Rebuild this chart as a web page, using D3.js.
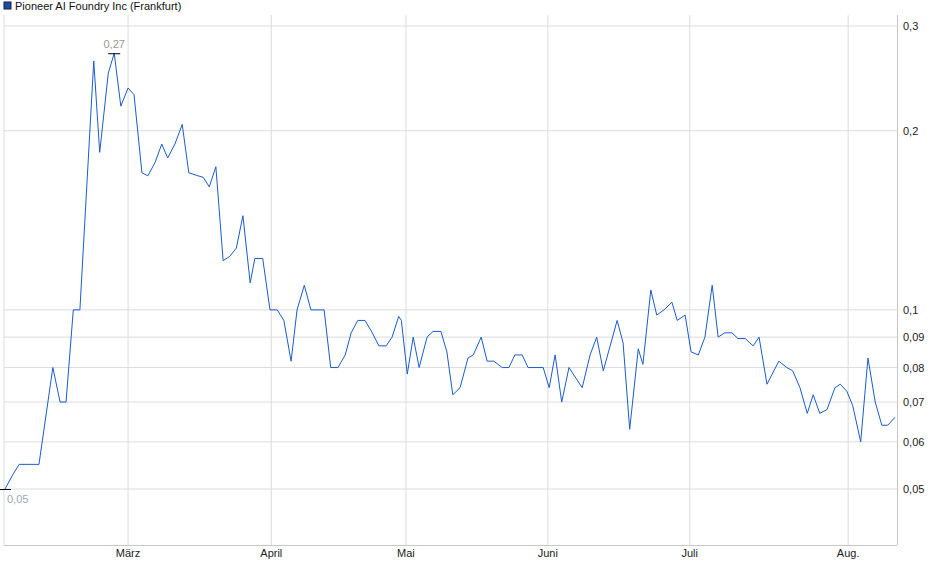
<!DOCTYPE html>
<html><head><meta charset="utf-8">
<script src="https://cdn.jsdelivr.net/npm/d3@7"></script>
<style>body{margin:0;background:#fff}svg{font-family:"Liberation Sans",Arial,sans-serif}</style>
</head><body><svg id="c" width="940" height="579"></svg>
<script>
const title = "Pioneer AI Foundry Inc (Frankfurt)";
const idx = [0.15,1.4,2.3,5.3,7.4,8.5,9.4,10.5,11.5,13.6,14.5,15.8,16.7,17.7,18.8,19.7,20.9,21.8,22.9,23.9,24.8,25.9,27,28,29.4,30.2,31.1,32.1,33.2,34.2,35.2,36.2,37.3,38,39.2,40.3,41.4,42.4,43.5,44.4,45.5,46.5,48.5,49.5,50.6,51.7,52.6,53.6,54.7,55.8,56.8,57.9,58.8,59.8,60.2,61.1,62,62.9,64.1,65,66.2,67.1,68,69.1,70.3,71.1,72.3,73.2,74.2,75.5,76.5,77.4,78.5,79.4,81.7,82.6,83.5,84.5,85.6,87.6,88.8,89.8,90.8,92.9,93.8,94.8,96.1,96.8,98,98.9,100,101.2,102,103.2,104.1,105.2,106.2,107.3,108.2,109.2,110.3,111.2,112.3,113.5,114.4,115.6,117.4,118.6,119.5,120.6,121.7,122.6,123.6,124.7,125.9,126.7,127.7,128.6,129.8,130.9,132,133,133.9,135];
const price = [0.05,0.053,0.055,0.055,0.08,0.07,0.07,0.1,0.1,0.262,0.184,0.25,0.27,0.22,0.236,0.23,0.17,0.168,0.177,0.19,0.18,0.19,0.205,0.17,0.168,0.167,0.161,0.174,0.121,0.123,0.127,0.144,0.111,0.122,0.122,0.1,0.1,0.096,0.082,0.1,0.11,0.1,0.1,0.08,0.08,0.084,0.0915,0.096,0.096,0.0915,0.087,0.087,0.09,0.0975,0.096,0.078,0.09,0.08,0.09,0.092,0.092,0.085,0.072,0.074,0.083,0.084,0.09,0.082,0.082,0.08,0.08,0.084,0.084,0.08,0.08,0.074,0.084,0.07,0.08,0.074,0.084,0.09,0.079,0.096,0.088,0.063,0.086,0.081,0.108,0.098,0.1,0.103,0.096,0.098,0.085,0.084,0.09,0.11,0.09,0.0915,0.0915,0.0895,0.0895,0.087,0.09,0.075,0.082,0.08,0.079,0.074,0.067,0.072,0.067,0.068,0.074,0.075,0.073,0.069,0.06,0.083,0.07,0.064,0.064,0.066];
const monthLabels = ["März","April","Mai","Juni","Juli","Aug."];
const monthIdx = [18.8,40.5,60.9,82.4,103.9,127.9];
const yTicks = [0.05,0.06,0.07,0.08,0.09,0.1,0.2,0.3];
const xMax = 135.3;

const svg = d3.select("#c");
const L=4,R=897,T=15,B=545;
const x = d3.scaleLinear().domain([0,xMax]).range([L,R]);
const y = d3.scaleLog().domain([0.05,0.3]).range([489,26]);
const fmt = v => String(v).replace(".",",");
const grid = "#dcdcdc";

svg.append("g").selectAll("line").data(yTicks).join("line")
  .attr("x1",L).attr("x2",R).attr("y1",d=>y(d)).attr("y2",d=>y(d)).attr("stroke",grid);
svg.append("g").selectAll("line").data([0,...monthIdx]).join("line")
  .attr("x1",d=>x(d)).attr("x2",d=>x(d)).attr("y1",T).attr("y2",B).attr("stroke",grid);
svg.append("line").attr("x1",R+0.5).attr("x2",R+0.5).attr("y1",T).attr("y2",B).attr("stroke","#c8c8c8");
svg.append("line").attr("x1",L).attr("x2",R).attr("y1",B+0.5).attr("y2",B+0.5).attr("stroke","#c8c8c8");

svg.append("g").selectAll("text").data(yTicks).join("text")
  .attr("x",903).attr("y",d=>y(d)+4).attr("font-size",11).attr("fill","#222").text(fmt);
svg.append("g").selectAll("text").data(monthLabels).join("text")
  .attr("x",(d,i)=>x(monthIdx[i])).attr("y",557).attr("text-anchor","middle")
  .attr("font-size",11).attr("fill","#222").text(d=>d);

const data = idx.map((d,i)=>[d,price[i]]);
svg.append("path").datum(data).attr("fill","none").attr("stroke","#1a5ccc").attr("stroke-width",1)
  .attr("d",d3.line().x(d=>x(d[0])).y(d=>y(d[1])));

const imax = d3.maxIndex(price), imin = d3.minIndex(price.slice(0,10));
[[imax,-5],[imin,14]].forEach(([i,dy])=>{
  const px=x(idx[i]), py=y(price[i]);
  svg.append("line").attr("x1",px-6).attr("x2",px+6).attr("y1",py+0.5).attr("y2",py+0.5).attr("stroke","#000");
  svg.append("text").attr("x",dy<0?px:px+2).attr("y",py+dy).attr("text-anchor",dy<0?"middle":"start")
    .attr("font-size",11).attr("fill",dy<0?"#999":"#9ab").text(fmt(price[i]));
});

svg.append("rect").attr("x",4).attr("y",2).attr("width",7).attr("height",7).attr("fill","#1a4fa8").attr("stroke","#123");
svg.append("text").attr("x",15).attr("y",10).attr("font-size",11).attr("fill","#111").text(title);
</script></body></html>
